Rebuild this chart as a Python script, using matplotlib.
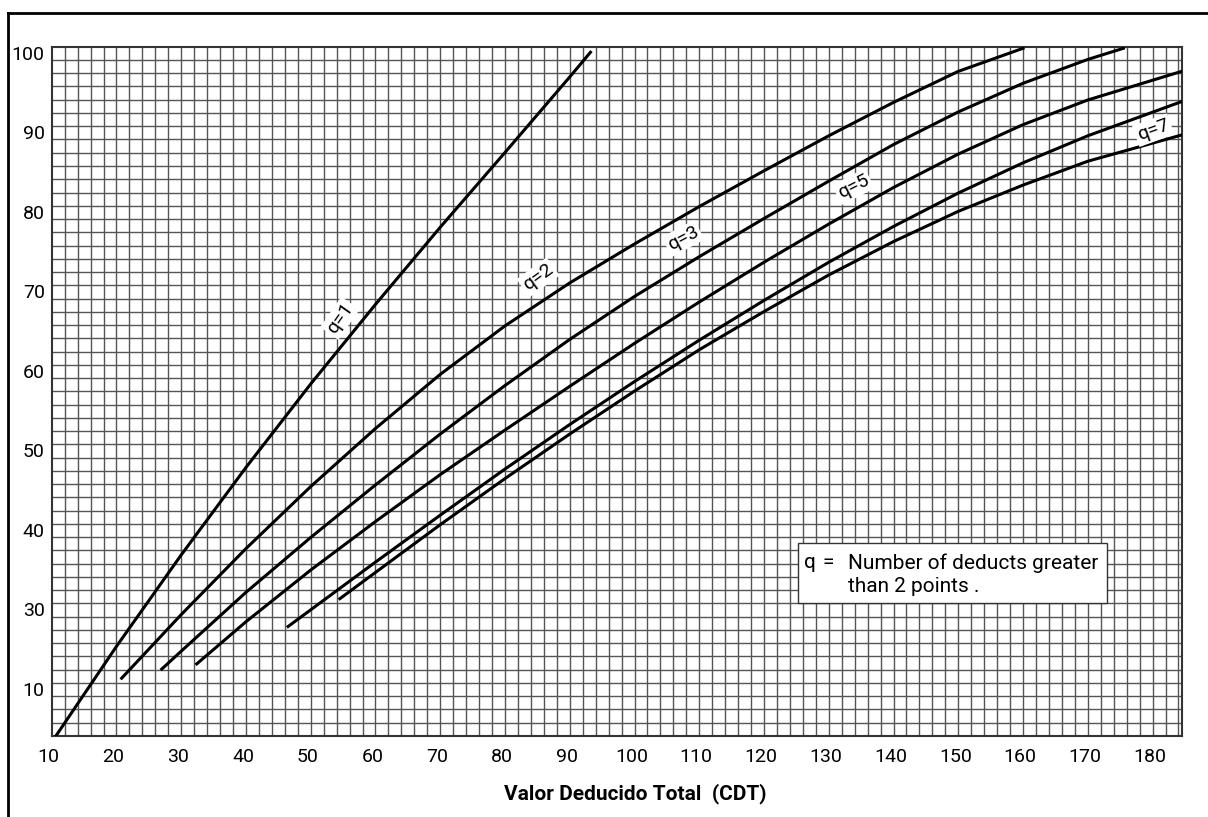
import numpy as np
import matplotlib.pyplot as plt
import matplotlib.transforms as mtransforms
from matplotlib.lines import Line2D
from matplotlib.patches import Rectangle

plt.rcParams['font.family'] = ['Roboto', 'DejaVu Sans']

# curves (CDT, corrected value)
q1_x = [10.7, 20, 30, 40, 50, 60, 70, 80, 90, 93.2]
q1_y = [13.4, 24.6, 36.1, 47.1, 57.6, 67.6, 77.3, 86.7, 96.2, 99.3]

q2_x = [20.8, 30, 40, 50, 60, 70, 80, 90, 100, 110, 120, 130, 140, 150, 160]
q2_y = [20.6, 28.6, 36.9, 44.7, 52.0, 58.8, 64.9, 70.3, 75.2, 79.9, 84.4, 88.8, 93.0, 96.9, 99.8]

q3_x = [27.0, 30, 40, 50, 60, 70, 80, 90, 100, 110, 120, 130, 140, 150, 160, 170, 175.5]
q3_y = [21.75, 24.0, 31.4, 38.3, 44.9, 51.3, 57.4, 63.2, 68.6, 73.6, 78.4, 83.1, 87.7, 91.8, 95.4, 98.4, 99.8]

q4_x = [32.4, 40, 50, 60, 70, 80, 90, 100, 110, 120, 130, 140, 150, 160, 170, 184.5]
q4_y = [22.4, 27.7, 34.2, 40.3, 46.2, 51.8, 57.3, 62.7, 67.9, 72.9, 77.7, 82.3, 86.5, 90.2, 93.3, 96.9]

q5_x = [46.5, 50, 60, 70, 80, 90, 100, 110, 120, 130, 140, 150, 160, 170, 184.5]
q5_y = [27.1, 29.2, 35.2, 41.1, 46.9, 52.5, 57.9, 63.1, 68.1, 72.9, 77.4, 81.6, 85.4, 88.8, 93.1]

q6_x = [54.5, 60, 70, 80, 90, 100, 110, 120, 130, 140, 150, 160, 170, 184.5]
q6_y = [30.6, 33.9, 39.9, 45.7, 51.3, 56.7, 61.9, 66.7, 71.3, 75.5, 79.3, 82.6, 85.6, 88.9]

labels = ['q=1', 'q=2', 'q=3', 'q=5', 'q=7']
label_x = [54.5, 85.1, 107.5, 133.8, 180.1]
label_y = [65.85, 71.0, 75.9, 82.4, 89.5]
label_rot = [55, 36, 28, 27, 20]

note_lines = ['Number of deducts greater', 'than 2 points .']

xticks = [10, 20, 30, 40, 50, 60, 70, 80, 90, 100, 110, 120, 130, 140, 150, 160, 170, 180]
yticks = [100, 90, 80, 70, 60, 50, 40, 30, 20]
ytick_labels = ['100', '90', '80', '70', '60', '50', '40', '30', '10']

fig = plt.figure(figsize=(12.08, 8.17), dpi=100)
ax = fig.add_axes([51.7 / 1208, 1 - 736 / 817, 1130 / 1208, 689.3 / 817])

ax.set_xlim(10, 184.5)
ax.set_ylim(100 - 52 * 5 / 3, 100)

# fine graph-paper grid
for gx in np.arange(12, 184.5, 2):
    ax.axvline(gx, color='#555555', lw=1.0, zorder=1)
for gy in np.arange(100 - 51 * 5 / 3, 100, 5 / 3):
    ax.axhline(gy, color='#555555', lw=1.0, zorder=1)

for xs, ys in [(q1_x, q1_y), (q2_x, q2_y), (q3_x, q3_y),
               (q4_x, q4_y), (q5_x, q5_y), (q6_x, q6_y)]:
    ax.plot(xs, ys, color='black', lw=2.2, zorder=3, solid_joinstyle='round')

for t, lx, ly, r in zip(labels, label_x, label_y, label_rot):
    ax.text(lx, ly, t, rotation=r, ha='center', va='center', fontsize=14,
            rotation_mode='anchor', zorder=4,
            bbox=dict(facecolor='white', edgecolor='none', pad=1.5))

# note box
ax.add_patch(Rectangle((125.3, 30.0), 47.6, 7.56, facecolor='white',
                       edgecolor='#333333', lw=1.0, zorder=5))
ax.text(127.1, 35.1, 'q', fontsize=15, ha='center', va='center', zorder=6)
ax.text(129.9, 35.1, '=', fontsize=15, ha='center', va='center', zorder=6)
ax.text(133.0, 35.1, note_lines[0], fontsize=15, ha='left', va='center', zorder=6)
ax.text(133.0, 32.1, note_lines[1], fontsize=15, ha='left', va='center', zorder=6)

ax.set_xticks(xticks)
ax.set_yticks(yticks)
ax.set_yticklabels(ytick_labels)
ax.tick_params(length=0, labelsize=14)
ax.tick_params(axis='x', pad=9)
ax.tick_params(axis='y', pad=5)

dy = mtransforms.ScaledTranslation(0, -6 / 100, fig.dpi_scale_trans)
for lab in ax.get_yticklabels():
    lab.set_transform(lab.get_transform() + dy)
dx = mtransforms.ScaledTranslation(-3 / 100, 0, fig.dpi_scale_trans)
for lab in ax.get_xticklabels():
    lab.set_transform(lab.get_transform() + dx)

for s in ax.spines.values():
    s.set_color('#333333')
    s.set_linewidth(1.5)

ax.set_xlabel('Valor Deducido Total  (CDT)', fontsize=15, fontweight='bold')
ax.xaxis.set_label_coords((635 - 51.7) / 1130, (736 - 793.3) / 689.3)
ax.xaxis.label.set_va('center')

# frame lines of the scanned page (left and top only)
fig.add_artist(Line2D([8.3 / 1208, 8.3 / 1208], [0, 1 - 13.3 / 817],
                      color='black', lw=2.0, transform=fig.transFigure))
fig.add_artist(Line2D([8.3 / 1208, 1], [1 - 13.3 / 817, 1 - 13.3 / 817],
                      color='black', lw=2.0, transform=fig.transFigure))

fig.savefig('out.png', dpi=100)
